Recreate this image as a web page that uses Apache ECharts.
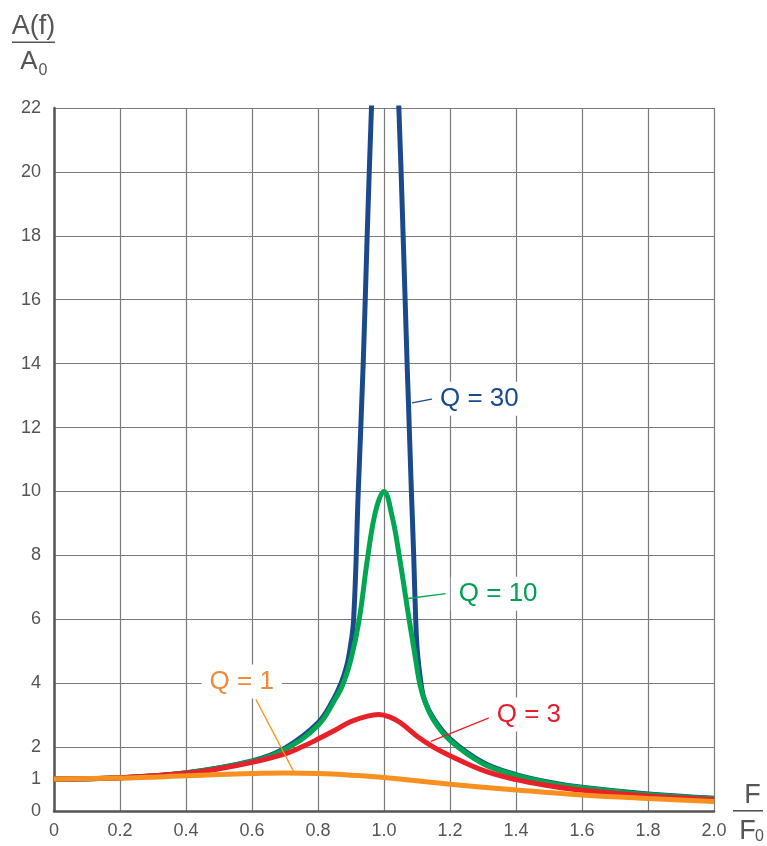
<!DOCTYPE html>
<html>
<head>
<meta charset="utf-8">
<script src="https://cdn.jsdelivr.net/npm/echarts@6/dist/echarts.min.js"></script>
<style>
  html, body { margin: 0; padding: 0; background: #fff; }
  #chart { width: 767px; height: 846px; }
</style>
</head>
<body>
<div id="chart"></div>
<script>
// values (F/F0 -> A(f)/A0)
const freq30 = [0, 0.2, 0.4, 0.6, 0.7, 0.8, 0.845, 0.87, 0.886, 0.896, 0.908, 0.922, 0.937, 0.949, 0.962, 0.98, 1.0, 1.025, 1.045, 1.058, 1.07, 1.074, 1.083, 1.09, 1.096, 1.101, 1.112, 1.123, 1.15, 1.2, 1.3, 1.4, 1.5, 1.6, 1.8, 2.0];
const amp30  = [1.0, 1.04, 1.2, 1.57, 1.97, 2.76, 3.46, 4.0, 4.5, 5.0, 6.0, 10.0, 14.0, 18.0, 22.0, 27.0, 30.0, 27.0, 22.0, 18.0, 14.0, 12.8, 10.0, 8.0, 6.0, 5.0, 4.0, 3.46, 2.9, 2.26, 1.52, 1.14, 0.9, 0.74, 0.53, 0.4];

const freq10 = [0, 0.2, 0.4, 0.6, 0.7, 0.8, 0.85, 0.875, 0.9, 0.925, 0.95, 0.975, 1.0, 1.025, 1.046, 1.076, 1.092, 1.108, 1.125, 1.15, 1.2, 1.3, 1.4, 1.5, 1.6, 1.8, 2.0];
const amp10  = [1.0, 1.04, 1.19, 1.55, 1.93, 2.68, 3.46, 3.95, 4.75, 6.0, 7.9, 9.4, 10.0, 9.2, 8.0, 6.0, 5.0, 4.0, 3.4, 2.85, 2.21, 1.48, 1.12, 0.88, 0.73, 0.52, 0.39];

const freq3 = [0, 0.2, 0.4, 0.5, 0.6, 0.7, 0.75, 0.8, 0.85, 0.9, 0.95, 0.985, 1.02, 1.05, 1.1, 1.15, 1.2, 1.3, 1.4, 1.5, 1.6, 1.8, 2.0];
const amp3  = [1.0, 1.04, 1.18, 1.32, 1.52, 1.79, 2.0, 2.25, 2.52, 2.8, 2.97, 3.02, 2.93, 2.76, 2.34, 2.0, 1.73, 1.27, 0.98, 0.79, 0.65, 0.47, 0.36];

const freq1 = [0, 0.2, 0.4, 0.5, 0.6, 0.7, 0.8, 0.9, 1.0, 1.2, 1.4, 1.6, 1.8, 2.0];
const amp1  = [1.0, 1.03, 1.1, 1.14, 1.17, 1.19, 1.17, 1.12, 1.05, 0.84, 0.66, 0.5, 0.39, 0.3];

const qNames  = ['Q = 30', 'Q = 10', 'Q = 3', 'Q = 1'];
const qColors = ['#1b4a8c', '#00a651', '#e8202a', '#f7901e'];
const labelColors = ['#1b4a8c', '#00a050', '#e31e2d', '#ee8a3a'];
// label centre and leader line (data coords)
const labelPos = [[1.289, 12.9], [1.346, 6.8], [1.439, 3.02], [0.569, 4.05]];
const leaders = [
  [[1.085, 12.77], [1.148, 12.9]],
  [[1.073, 6.65], [1.187, 6.8]],
  [[1.142, 2.18], [1.322, 2.93]],
  [[0.612, 3.49], [0.726, 1.24]]
];

const zip = (xs, ys) => xs.map((x, i) => [x, ys[i]]);
const curves = [zip(freq30, amp30), zip(freq10, amp10), zip(freq3, amp3), zip(freq1, amp1)];

const chart = echarts.init(document.getElementById('chart'));
const font = 'Liberation Sans, Arial, sans-serif';
const grey = '#555';

const series = curves.map((data, i) => ({
  name: qNames[i],
  type: 'line',
  data: data,
  smooth: 0.4,
  symbol: 'none',
  clip: true,
  lineStyle: { color: qColors[i], width: 5 },
  markLine: {
    silent: true,
    symbol: 'none',
    label: { show: false },
    lineStyle: { color: qColors[i], width: 1.3, type: 'solid' },
    data: [[{ coord: leaders[i][0] }, { coord: leaders[i][1] }]]
  },
  markPoint: {
    silent: true,
    symbol: 'rect',
    symbolSize: 0,
    label: {
      show: true,
      position: 'inside',
      formatter: qNames[i],
      color: labelColors[i],
      fontSize: 26,
      fontFamily: font,
      backgroundColor: '#fff',
      padding: [4, 8]
    },
    data: [{ coord: labelPos[i] }]
  }
}));

const option = {
  animation: false,
  grid: { left: 54, right: 53, top: 108, bottom: 35 },
  xAxis: {
    type: 'value',
    min: 0, max: 2.0, interval: 0.2,
    axisLine: { show: true, onZero: false, lineStyle: { color: grey, width: 2.5 } },
    axisTick: { show: false },
    axisLabel: {
      color: grey, fontSize: 18, fontFamily: font, margin: 11,
      formatter: v => v === 0 ? '0' : v.toFixed(1)
    },
    splitLine: { show: true, lineStyle: { color: '#7a7a7a', width: 1.2 } }
  },
  yAxis: [
    {
      type: 'value',
      min: 0, max: 22, interval: 1,
      position: 'left',
      axisLine: { show: true, onZero: false, lineStyle: { color: grey, width: 2.5 } },
      axisTick: { show: false },
      axisLabel: {
        color: grey, fontSize: 18, fontFamily: font, margin: 13,
        formatter: v => (v <= 2 || v % 2 === 0) ? String(v) : ''
      },
      splitLine: { show: false }
    },
    {
      type: 'value',
      min: 0, max: 22, interval: 2,
      position: 'left',
      axisLine: { show: false },
      axisTick: { show: false },
      axisLabel: { show: false },
      splitLine: { show: true, lineStyle: { color: '#7a7a7a', width: 1.2 } }
    }
  ],
  graphic: [
    { type: 'text', x: 33.5, y: 27, style: { text: 'A(f)', fill: grey, font: '27px ' + font, align: 'center', verticalAlign: 'middle' } },
    { type: 'rect', shape: { x: 12, y: 41.5, width: 43, height: 1.6 }, style: { fill: grey } },
    { type: 'text', x: 29, y: 61.5, style: { text: 'A', fill: grey, font: '26px ' + font, align: 'center', verticalAlign: 'middle' } },
    { type: 'text', x: 43, y: 70.5, style: { text: '0', fill: grey, font: '16px ' + font, align: 'center', verticalAlign: 'middle' } },
    { type: 'text', x: 752.5, y: 795.5, style: { text: 'F', fill: grey, font: '27px ' + font, align: 'center', verticalAlign: 'middle' } },
    { type: 'rect', shape: { x: 733, y: 810, width: 30, height: 1.6 }, style: { fill: grey } },
    { type: 'text', x: 747.5, y: 832, style: { text: 'F', fill: grey, font: '27px ' + font, align: 'center', verticalAlign: 'middle' } },
    { type: 'text', x: 759.5, y: 837, style: { text: '0', fill: grey, font: '16px ' + font, align: 'center', verticalAlign: 'middle' } }
  ],
  series: series
};

chart.setOption(option);
window.addEventListener('resize', () => chart.resize());
</script>
</body>
</html>
